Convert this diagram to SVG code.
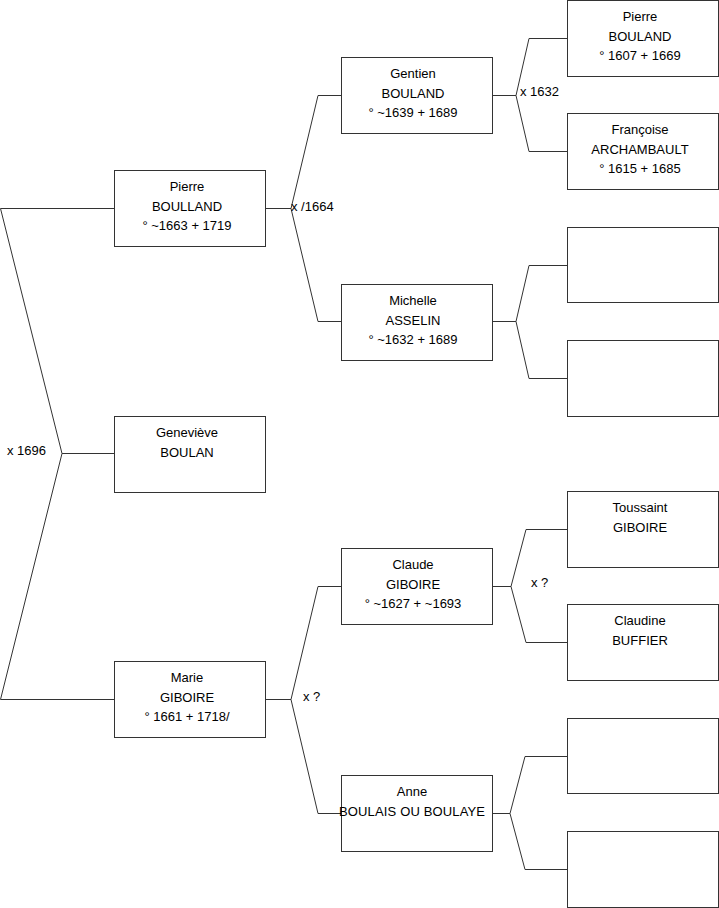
<svg xmlns="http://www.w3.org/2000/svg" width="719" height="908" viewBox="0 0 719 908">
<style>
.box{fill:#fff;stroke:#333;stroke-width:1}
.c{fill:none;stroke:#333;stroke-width:1}
text{font-family:"Liberation Sans",Arial,sans-serif;font-size:13px;fill:#000}
.t{text-anchor:middle}
</style>
<rect width="719" height="908" fill="#fff"/>
<g id="connectors">
<path class="c" d="M114,208.5 H0.5 L62,453.5 L0.5,699.5 H114 M62,453.5 H114"/>
<path class="c" d="M341,95.5 H318 L291,208.5 L318,321.5 H341 M265,208.5 H291"/>
<path class="c" d="M567,38.5 H529 L516,95.5 L529,151.5 H567 M492,95.5 H516"/>
<path class="c" d="M567,265.5 H529 L516,321.5 L529,378.5 H567 M492,321.5 H516"/>
<path class="c" d="M341,586.5 H318 L291,699.5 L318,813.5 H341 M265,699.5 H291"/>
<path class="c" d="M567,529.5 H526 L511,586.5 L526,642.5 H567 M492,586.5 H511"/>
<path class="c" d="M567,756.5 H525 L510,813.5 L525,869.5 H567 M492,813.5 H510"/>
<text x="7" y="455">x 1696</text>
<text x="291" y="211">x /1664</text>
<text x="520" y="96">x 1632</text>
<text x="303" y="701">x ?</text>
<text x="531" y="587">x ?</text>
</g>
<g id="n-pierre-boulland">
<rect class="box" x="114.5" y="170.5" width="151" height="76"/>
<text class="t" x="187" y="191">Pierre</text>
<text class="t" x="187" y="211">BOULLAND</text>
<text class="t" x="187" y="230">° ~1663 + 1719</text>
</g>
<g id="n-genevieve">
<rect class="box" x="114.5" y="416.5" width="151" height="76"/>
<text class="t" x="187" y="437">Geneviève</text>
<text class="t" x="187" y="457">BOULAN</text>
</g>
<g id="n-marie">
<rect class="box" x="114.5" y="661.5" width="151" height="76"/>
<text class="t" x="187" y="682">Marie</text>
<text class="t" x="187" y="702">GIBOIRE</text>
<text class="t" x="187" y="721">° 1661 + 1718/</text>
</g>
<g id="n-gentien">
<rect class="box" x="341.5" y="57.5" width="151" height="76"/>
<text class="t" x="413" y="78">Gentien</text>
<text class="t" x="413" y="98">BOULAND</text>
<text class="t" x="413" y="117">° ~1639 + 1689</text>
</g>
<g id="n-michelle">
<rect class="box" x="341.5" y="284.5" width="151" height="76"/>
<text class="t" x="413" y="305">Michelle</text>
<text class="t" x="413" y="325">ASSELIN</text>
<text class="t" x="413" y="344">° ~1632 + 1689</text>
</g>
<g id="n-claude">
<rect class="box" x="341.5" y="548.5" width="151" height="76"/>
<text class="t" x="413" y="569">Claude</text>
<text class="t" x="413" y="589">GIBOIRE</text>
<text class="t" x="413" y="608">° ~1627 + ~1693</text>
</g>
<g id="n-anne">
<rect class="box" x="341.5" y="775.5" width="151" height="76"/>
<text class="t" x="412" y="796">Anne</text>
<text class="t" x="412" y="816" textLength="146">BOULAIS OU BOULAYE</text>
</g>
<g id="n-pierre-bouland">
<rect class="box" x="567.5" y="0.5" width="151" height="76"/>
<text class="t" x="640" y="21">Pierre</text>
<text class="t" x="640" y="41">BOULAND</text>
<text class="t" x="640" y="60">° 1607 + 1669</text>
</g>
<g id="n-francoise">
<rect class="box" x="567.5" y="113.5" width="151" height="76"/>
<text class="t" x="640" y="134">Françoise</text>
<text class="t" x="640" y="154">ARCHAMBAULT</text>
<text class="t" x="640" y="173">° 1615 + 1685</text>
</g>
<g id="n-empty-1">
<rect class="box" x="567.5" y="227.5" width="151" height="75"/>
</g>
<g id="n-empty-2">
<rect class="box" x="567.5" y="340.5" width="151" height="76"/>
</g>
<g id="n-toussaint">
<rect class="box" x="567.5" y="491.5" width="151" height="76"/>
<text class="t" x="640" y="512">Toussaint</text>
<text class="t" x="640" y="532">GIBOIRE</text>
</g>
<g id="n-claudine">
<rect class="box" x="567.5" y="604.5" width="151" height="76"/>
<text class="t" x="640" y="625">Claudine</text>
<text class="t" x="640" y="645">BUFFIER</text>
</g>
<g id="n-empty-3">
<rect class="box" x="567.5" y="718.5" width="151" height="75"/>
</g>
<g id="n-empty-4">
<rect class="box" x="567.5" y="831.5" width="151" height="76"/>
</g>
</svg>
